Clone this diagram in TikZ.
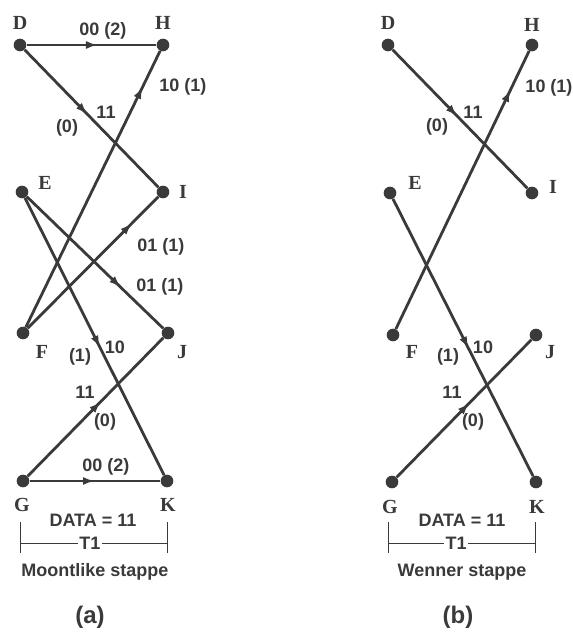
\documentclass[tikz,border=0pt]{standalone}
\usepackage{fontspec}
\setmainfont{Liberation Serif}
\setsansfont{Liberation Sans}
\usetikzlibrary{arrows.meta, positioning, decorations.markings}
\definecolor{ink}{HTML}{3A3A3A}

\begin{document}
\begin{tikzpicture}[x=0.75pt, y=-0.75pt,
    dot/.style={circle, fill=ink, inner sep=0pt, minimum size=9.5pt},
    tr/.style={ink, line width=2.1pt, postaction={decorate, decoration={markings,
        mark=at position #1 with {\arrow{Latex[length=9pt, width=6pt]}}}}},
    lett/.style={font=\fontsize{15}{17}\selectfont\bfseries, text=ink, inner sep=0pt},
    lbl/.style={font=\sffamily\bfseries\fontsize{13.5}{15}\selectfont, text=ink, inner sep=1pt},
    subcap/.style={font=\sffamily\bfseries\fontsize{18}{20}\selectfont, text=ink}]
\useasboundingbox (0,0) rectangle (573,632);

% (a) Moontlike stappe
\node[dot] (D) at (20,45) {};
\node[dot] (H) at (163,45) {};
\node[dot] (E) at (22,192) {};
\node[dot] (I) at (163,192) {};
\node[dot] (F) at (23,333) {};
\node[dot] (J) at (168,333) {};
\node[dot] (G) at (23,481) {};
\node[dot] (K) at (167,481) {};
\node[lett] (tD) at ([shift={(0,-22)}]D) {D};
\node[lett] (tH) at ([shift={(0,-22)}]H) {H};
\node[lett] (tE) at ([shift={(23,-9)}]E) {E};
\node[lett] (tI) at ([shift={(20,0)}]I) {I};
\node[lett] (tF) at ([shift={(19,19)}]F) {F};
\node[lett] (tJ) at ([shift={(14,19)}]J) {J};
\node[lett] (tG) at ([shift={(-1,24)}]G) {G};
\node[lett] (tK) at ([shift={(1,24)}]K) {K};
% oorgange
\draw[tr=0.55] (D) -- (H);
\draw[tr=0.47] (D) -- (I);
\draw[tr=0.87] (F) -- (H);
\draw[tr=0.8] (F) -- (I);
\draw[tr=0.69] (E) -- (J);
\draw[tr=0.54] (E) -- (K);
\draw[tr=0.54] (G) -- (J);
\draw[tr=0.5] (G) -- (K);
\node[lbl] (aDH) at (103,31) {00 (2)};
\node[lbl] (aDIa) at (106,112) {11};
\node[lbl] (aDIb) at (67,128) {(0)};
\node[lbl] (aFH) at (183,87) {10 (1)};
\node[lbl] (aFI) at (161,247) {01 (1)};
\node[lbl] (aEJ) at (160,287) {01 (1)};
\node[lbl] (aEKa) at (80,357) {(1)};
\node[lbl] (aEKb) at (115,347) {10};
\node[lbl] (aGJa) at (85,392) {11};
\node[lbl] (aGJb) at (105,422) {(0)};
\node[lbl] (aGK) at (106,467) {00 (2)};
% tydsduur
\node[lbl] (dataA) at (93,520) {DATA = 11};
\node[lbl, fill=white] (tA) at (90,543) {T1};
\coordinate (tAl) at (20,543);
\coordinate (tAr) at (167,543);
\draw[ink, line width=0.6pt] (tAl) -- (tA) -- (tAr);
\draw[ink, line width=0.6pt] (tAl) ++(0,-21) -- ++(0,31);
\draw[ink, line width=0.6pt] (tAr) ++(0,-21) -- ++(0,31);
\node[lbl] (nA) at (95,572) {Moontlike stappe};
\node[subcap] (capA) at (90,617) {(a)};

% (b) Wenner stappe
\node[dot] (D2) at (388,45) {};
\node[dot] (H2) at (532,45) {};
\node[dot] (E2) at (390,193) {};
\node[dot] (I2) at (532,193) {};
\node[dot] (F2) at (393,335) {};
\node[dot] (J2) at (536,335) {};
\node[dot] (G2) at (392,482) {};
\node[dot] (K2) at (536,482) {};
\node[lett] (tD2) at ([shift={(0,-22)}]D2) {D};
\node[lett] (tH2) at ([shift={(0,-20)}]H2) {H};
\node[lett] (tE2) at ([shift={(25,-10)}]E2) {E};
\node[lett] (tI2) at ([shift={(21,-6)}]I2) {I};
\node[lett] (tF2) at ([shift={(19,17)}]F2) {F};
\node[lett] (tJ2) at ([shift={(14,17)}]J2) {J};
\node[lett] (tG2) at ([shift={(-2,25)}]G2) {G};
\node[lett] (tK2) at ([shift={(1,25)}]K2) {K};
% oorgange
\draw[tr=0.48] (D2) -- (I2);
\draw[tr=0.86] (F2) -- (H2);
\draw[tr=0.54] (E2) -- (K2);
\draw[tr=0.54] (G2) -- (J2);
\node[lbl] (bDIa) at (473,112) {11};
\node[lbl] (bDIb) at (437,127) {(0)};
\node[lbl] (bFH) at (549,88) {10 (1)};
\node[lbl] (bEKa) at (448,357) {(1)};
\node[lbl] (bEKb) at (483,347) {10};
\node[lbl] (bGJa) at (452,392) {11};
\node[lbl] (bGJb) at (473,422) {(0)};
% tydsduur
\node[lbl] (dataB) at (462,520) {DATA = 11};
\node[lbl, fill=white] (tB) at (456,543) {T1};
\coordinate (tBl) at (388,543);
\coordinate (tBr) at (535,543);
\draw[ink, line width=0.6pt] (tBl) -- (tB) -- (tBr);
\draw[ink, line width=0.6pt] (tBl) ++(0,-21) -- ++(0,31);
\draw[ink, line width=0.6pt] (tBr) ++(0,-21) -- ++(0,31);
\node[lbl] (nB) at (462,572) {Wenner stappe};
\node[subcap] (capB) at (458,617) {(b)};
\end{tikzpicture}
\end{document}
